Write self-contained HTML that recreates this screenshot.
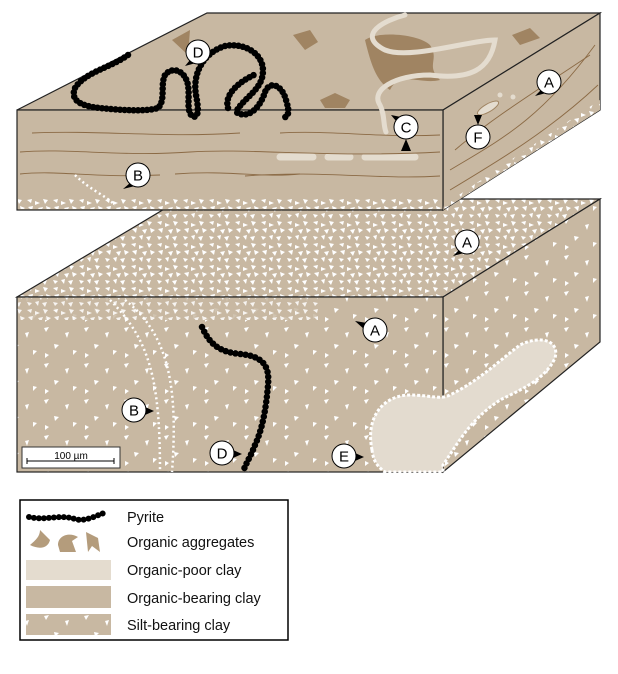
<!DOCTYPE html>
<html><head><meta charset="utf-8"><style>
html,body{margin:0;padding:0;background:#fff;width:618px;height:674px;overflow:hidden}
svg{display:block}
text{font-family:"Liberation Sans",sans-serif}
</style></head><body>
<svg width="618" height="674" viewBox="0 0 618 674" xmlns="http://www.w3.org/2000/svg">
<defs>
<pattern id="sd" width="26" height="22" patternUnits="userSpaceOnUse">
<rect width="26" height="22" fill="#c8b8a2"/>
<polygon points="1,2 6,1 5,5" fill="#fff"/><polygon points="9,3 14,5 9,7" fill="#fff"/>
<polygon points="17,1 22,2 19,6" fill="#fff"/><polygon points="2,9 7,8 6,13" fill="#fff"/>
<polygon points="12,10 17,9 15,14" fill="#fff"/><polygon points="20,8 25,10 21,13" fill="#fff"/>
<polygon points="1,16 6,17 3,20" fill="#fff"/><polygon points="9,16 13,15 12,20" fill="#fff"/>
<polygon points="16,17 21,16 19,21" fill="#fff"/>
</pattern>
<pattern id="ss" width="40" height="36" patternUnits="userSpaceOnUse">
<rect width="40" height="36" fill="#c8b8a2"/>
<polygon points="4,4 9,3 6,8" fill="#fff"/><polygon points="25,9 29,8 27,14" fill="#fff"/>
<polygon points="14,20 19,21 15,25" fill="#fff"/><polygon points="33,26 37,27 33,31" fill="#fff"/>
<polygon points="5,29 9,31 5,34" fill="#fff"/>
</pattern>
</defs>

<!-- LOWER BLOCK -->
<polygon points="17,297 181,199 600,199 443,297" fill="url(#sd)" stroke="#222" stroke-width="1.2"/>
<polygon points="443,297 600,199 600,342 443,472" fill="url(#ss)" stroke="#222" stroke-width="1.2"/>
<rect x="17" y="297" width="426" height="175" fill="url(#ss)" stroke="#222" stroke-width="1.2"/>
<rect x="18" y="298" width="300" height="22" fill="url(#sd)" opacity="0.85"/>
<path d="M110,300 C150,340 160,380 160,472" fill="none" stroke="#fff" stroke-width="2.5" stroke-dasharray="2 3"/>
<path d="M125,300 C170,335 178,390 172,472" fill="none" stroke="#fff" stroke-width="2.5" stroke-dasharray="2 3"/>
<path d="M372,450 C365,415 385,395 410,395 C430,395 440,400 450,395 C480,380 500,360 520,345 C540,335 560,340 555,358 C545,380 520,390 500,400 C470,420 460,440 443,465 L443,472 L385,472 C375,465 373,458 372,450 Z" fill="#e3dbcf" stroke="#fff" stroke-width="3" stroke-dasharray="3 2"/>
<path d="M202,327 C210,345 220,352 240,354 C262,356 270,365 268,385 C266,410 262,430 255,445 C250,458 245,465 243,472" fill="none" stroke="#000" stroke-width="6.5" stroke-linecap="round" stroke-dasharray="0 5"/>

<!-- UPPER BLOCK -->
<polygon points="17,110 207,13 600,13 443,110" fill="#c8b8a2" stroke="#222" stroke-width="1.2"/>
<polygon points="443,110 600,13 600,110 443,210" fill="#c8b8a2" stroke="#222" stroke-width="1.2"/>
<rect x="17" y="110" width="426" height="100" fill="#c8b8a2" stroke="#222" stroke-width="1.2"/>
<path d="M365,40 C380,30 420,35 430,45 C440,60 425,65 440,80 C420,85 400,70 390,90 C375,80 370,60 365,40Z" fill="#a08462"/>
<path d="M172,40 L190,30 L188,55 Z" fill="#a08462"/>
<path d="M293,35 L310,30 L318,42 L305,50 Z" fill="#a08462"/>
<path d="M320,100 L335,93 L350,100 L345,108 L325,108 Z" fill="#a08462"/>
<path d="M512,35 L530,28 L540,38 L520,45 Z" fill="#a08462"/>
<path d="M405,15 C385,20 355,35 385,50 C410,60 470,40 495,40 C490,70 470,80 430,75 C395,75 370,90 380,105 C385,115 383,125 386,132" fill="none" stroke="#e4dccf" stroke-width="5" stroke-linecap="round"/>
<path d="M280,157 H313 M328,157 H350 M365,157 H415" stroke="#e4dccf" stroke-width="7" stroke-linecap="round"/>
<g fill="none" stroke="#8b6a45" stroke-width="0.9">
<path d="M32,133 C100,130 160,138 240,133"/><path d="M280,133 C330,130 380,138 440,135"/>
<path d="M20,152 C70,148 120,157 190,152 C250,148 330,158 440,152"/>
<path d="M20,174 C60,170 90,178 160,175"/><path d="M175,174 C230,170 260,178 300,174"/><path d="M245,176 C320,170 380,180 440,176"/>
<path d="M450,170 C500,140 540,120 595,45"/><path d="M450,190 C500,160 550,130 598,85"/><path d="M455,150 C490,120 530,95 590,55"/>
</g>
<rect x="18" y="198" width="424" height="11" fill="url(#sd)"/>
<polygon points="444,205 600,100 600,110 443,210" fill="url(#sd)"/>
<path d="M75,175 C90,190 105,195 115,205" stroke="#fff" stroke-width="2.5" stroke-dasharray="2 3" fill="none"/>
<ellipse cx="488" cy="108" rx="12" ry="4" transform="rotate(-30 488 108)" fill="#e4dccf" stroke="#a08462" stroke-width="1"/>
<circle cx="500" cy="95" r="2.5" fill="#e4dccf"/><circle cx="513" cy="97" r="2.5" fill="#e4dccf"/>
<path d="M128,55 C110,68 85,72 75,88 C70,100 80,106 100,108 C120,110 145,112 158,108 C166,100 160,85 165,75 C172,66 185,70 188,85 C190,98 186,110 192,116 C200,120 198,105 196,95 C192,72 205,52 225,46 C245,42 268,55 262,78 C258,92 242,100 236,112 C248,120 260,108 265,92 C270,80 282,85 286,100 C289,110 290,116 283,118 M228,108 C224,95 238,82 256,74" fill="none" stroke="#000" stroke-width="6.5" stroke-linecap="round" stroke-dasharray="0 4.5"/>

<g font-size="15" text-anchor="middle">
<g transform="translate(198,52)"><polygon points="-8,8 -13,14 -2,11" fill="#000"/><circle r="12" fill="#fff" stroke="#000"/><text y="5.5">D</text></g>
<g transform="translate(406,127)"><polygon points="-10,-6 -15,-12 -5,-10" fill="#000"/><polygon points="0,12 -5,24 5,24" fill="#000"/><circle r="12" fill="#fff" stroke="#000"/><text y="5.5">C</text></g>
<g transform="translate(549,82)"><polygon points="-8,8 -14,14 -3,11" fill="#000"/><circle r="12" fill="#fff" stroke="#000"/><text y="5.5">A</text></g>
<g transform="translate(478,137)"><polygon points="0,-12 -4,-22 4,-22" fill="#000"/><circle r="12" fill="#fff" stroke="#000"/><text y="5.5">F</text></g>
<g transform="translate(138,175)"><polygon points="-8,8 -15,14 -3,11" fill="#000"/><circle r="12" fill="#fff" stroke="#000"/><text y="5.5">B</text></g>
<g transform="translate(467,242)"><polygon points="-8,8 -14,14 -3,11" fill="#000"/><circle r="12" fill="#fff" stroke="#000"/><text y="5.5">A</text></g>
<g transform="translate(375,330)"><polygon points="-8,-7 -20,-9 -10,0" fill="#000"/><circle r="12" fill="#fff" stroke="#000"/><text y="5.5">A</text></g>
<g transform="translate(134,410)"><polygon points="11,-3 20,1 11,5" fill="#000"/><circle r="12" fill="#fff" stroke="#000"/><text y="5.5">B</text></g>
<g transform="translate(222,453)"><polygon points="11,-3 20,1 11,5" fill="#000"/><circle r="12" fill="#fff" stroke="#000"/><text y="5.5">D</text></g>
<g transform="translate(344,456)"><polygon points="11,-3 20,1 11,5" fill="#000"/><circle r="12" fill="#fff" stroke="#000"/><text y="5.5">E</text></g>
</g>
<rect x="22" y="447" width="98" height="21" fill="#fff" stroke="#333"/>
<text x="71" y="459" font-size="10" text-anchor="middle">100 µm</text>
<path d="M27,461 H114 M27,458 V464 M114,458 V464" stroke="#000" stroke-width="1"/>

<rect x="20" y="500" width="268" height="140" fill="#fff" stroke="#000" stroke-width="1.5"/>
<path d="M29,517 C45,521 60,514 75,519 C85,522 95,516 104,513" fill="none" stroke="#000" stroke-width="6" stroke-linecap="round" stroke-dasharray="0 5"/>
<path d="M30,545 C36,540 40,536 40,530 L50,540 C48,548 40,550 30,545Z" fill="#b49c7c"/>
<path d="M58,545 C58,535 70,532 78,537 L72,541 L76,552 L60,552Z" fill="#b49c7c"/>
<path d="M86,532 L98,538 L100,552 L92,546 L88,552Z" fill="#b49c7c"/>
<rect x="26" y="560" width="85" height="20" fill="#e4dccf"/>
<rect x="26" y="586" width="85" height="22" fill="#c8b8a2"/>
<rect x="26" y="614" width="85" height="21" fill="url(#ss)"/>
<g font-size="14.5" fill="#111">
<text x="127" y="522">Pyrite</text>
<text x="127" y="547">Organic aggregates</text>
<text x="127" y="575">Organic-poor clay</text>
<text x="127" y="603">Organic-bearing clay</text>
<text x="127" y="630">Silt-bearing clay</text>
</g>
</svg>
</body></html>
